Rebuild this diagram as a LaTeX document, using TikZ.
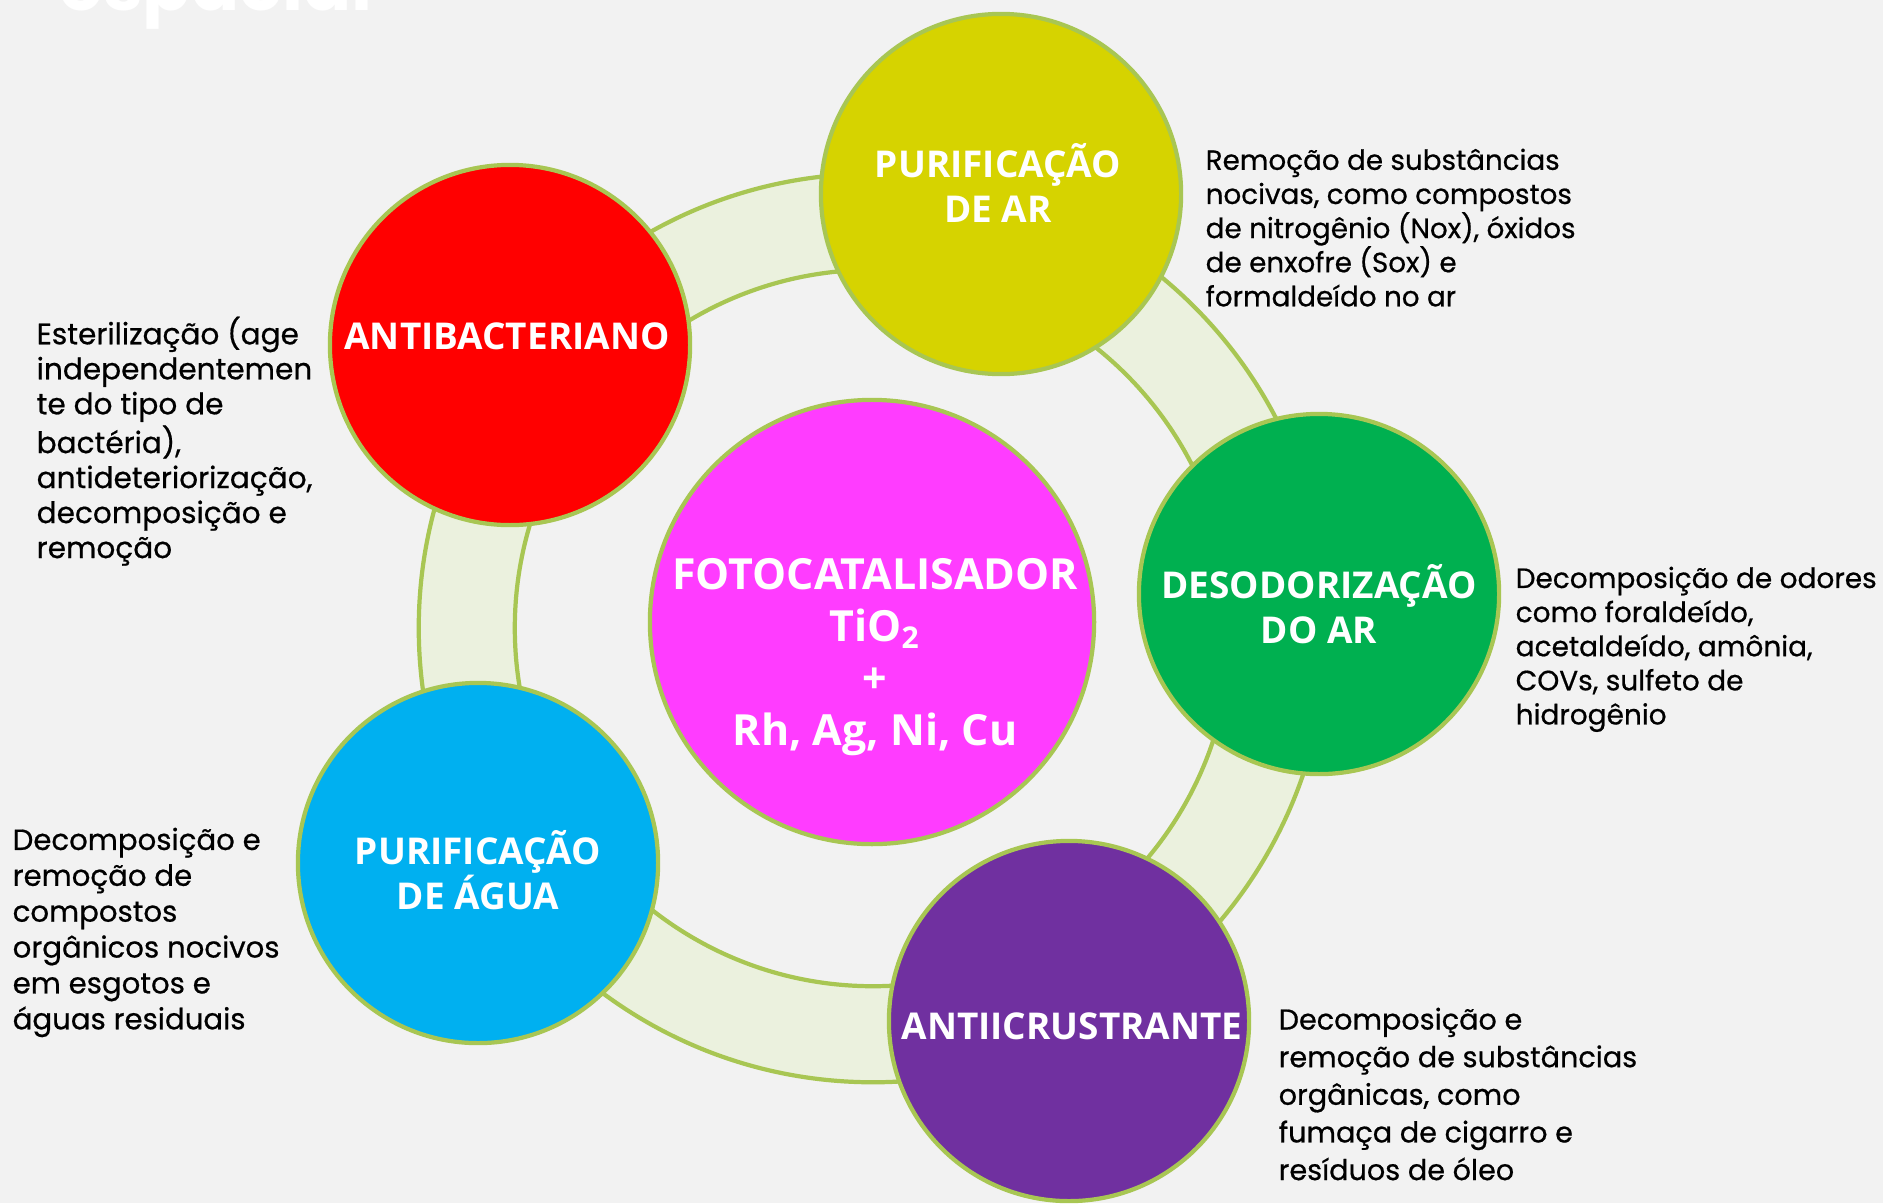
\documentclass[tikz,border=0pt]{standalone}
\usepackage{fontspec}
\newfontfamily\descfont[FakeBold=0.6]{Poppins}
\newfontfamily\titlefont{Poppins}
\newfontfamily\lblfont{Open Sans}
\definecolor{bgcol}{HTML}{F2F2F2}
\definecolor{ringfill}{HTML}{EBF1DE}
\definecolor{rimgreen}{HTML}{A8C653}
\definecolor{catmagenta}{HTML}{FF3CFF}
\definecolor{aryellow}{HTML}{D6D300}
\definecolor{bacred}{HTML}{FF0000}
\definecolor{odorgreen}{HTML}{00B050}
\definecolor{aguablue}{HTML}{00B0F0}
\definecolor{incpurple}{HTML}{7030A0}
\begin{document}
\begin{tikzpicture}[x=0.01cm, y=-0.01cm,
  bubble/.style={circle, draw=rimgreen, line width=1.2pt, inner sep=0pt, minimum size=3.6cm},
  lbl/.style={text=white, inner sep=0pt, align=center, font=\lblfont\bfseries\fontsize{10.5}{12.8}\selectfont},
  desc/.style={anchor=north west, inner sep=0pt, align=left, font=\descfont\fontsize{7.9}{9.7}\selectfont}]
\useasboundingbox[fill=bgcol] (0,0) rectangle (1883,1203);
\node[anchor=base west, text=white, font=\titlefont\bfseries\fontsize{20.2}{20.2}\selectfont] (titulo) at (47,10) {espacial};
\coordinate (mid) at (873,628);
\fill[ringfill, even odd rule] (mid) circle (4.54cm) (mid) circle (3.58cm);
\draw[rimgreen, line width=1.2pt] (mid) circle (4.54cm) (mid) circle (3.58cm);
\node[bubble, fill=catmagenta, minimum size=4.44cm] (cat) at (872,622) {};
\node[bubble, fill=aryellow] (purar) at (1001,194) {};
\node[bubble, fill=bacred] (antib) at (510,345) {};
\node[bubble, fill=odorgreen] (desod) at (1319,594) {};
\node[bubble, fill=aguablue] (puragua) at (478,863) {};
\node[bubble, fill=incpurple] (antiinc) at (1069,1021) {};
\node[lbl] (purarlbl) at (998,183) {PURIFICAÇÃO\\DE AR};
\node[lbl] (antiblbl) at (507,336) {ANTIBACTERIANO};
\node[lbl] (desodlbl) at (1319,604) {DESODORIZAÇÃO\\DO AR};
\node[lbl] (puragualbl) at (478,870) {PURIFICAÇÃO\\DE ÁGUA};
\node[lbl] (antiinclbl) at (1072,1026) {ANTIICRUSTRANTE};
\node[lbl, font=\lblfont\bfseries\fontsize{12.2}{14.8}\selectfont] (catlbl) at (875,657) {FOTOCATALISADOR\\TiO\textsubscript{2}\\+\\Rh, Ag, Ni, Cu};
\node[desc] (txtar) at (1205,148) {Remoção de substâncias\\nocivas, como compostos\\de nitrogênio (Nox), óxidos\\de enxofre (Sox) e\\formaldeído no ar};
\node[desc, font=\descfont\fontsize{7.95}{9.7}\selectfont] (txtodor) at (1515,566) {Decomposição de odores\\como foraldeído,\\acetaldeído, amônia,\\COVs, sulfeto de\\hidrogênio};
\node[desc, font=\descfont\fontsize{8.4}{9.95}\selectfont] (txtbac) at (36,316) {Esterilização (age\\independentemen\\te do tipo de\\bactéria),\\antideteriorização,\\decomposição e\\remoção};
\node[desc, font=\descfont\fontsize{8.3}{10.2}\selectfont] (txtagua) at (12,827) {Decomposição e\\remoção de\\compostos\\orgânicos nocivos\\em esgotos e\\águas residuais};
\node[desc, font=\descfont\fontsize{8.15}{10.7}\selectfont] (txtinc) at (1278,1007) {Decomposição e\\remoção de substâncias\\orgânicas, como\\fumaça de cigarro e\\resíduos de óleo};
\end{tikzpicture}
\end{document}
